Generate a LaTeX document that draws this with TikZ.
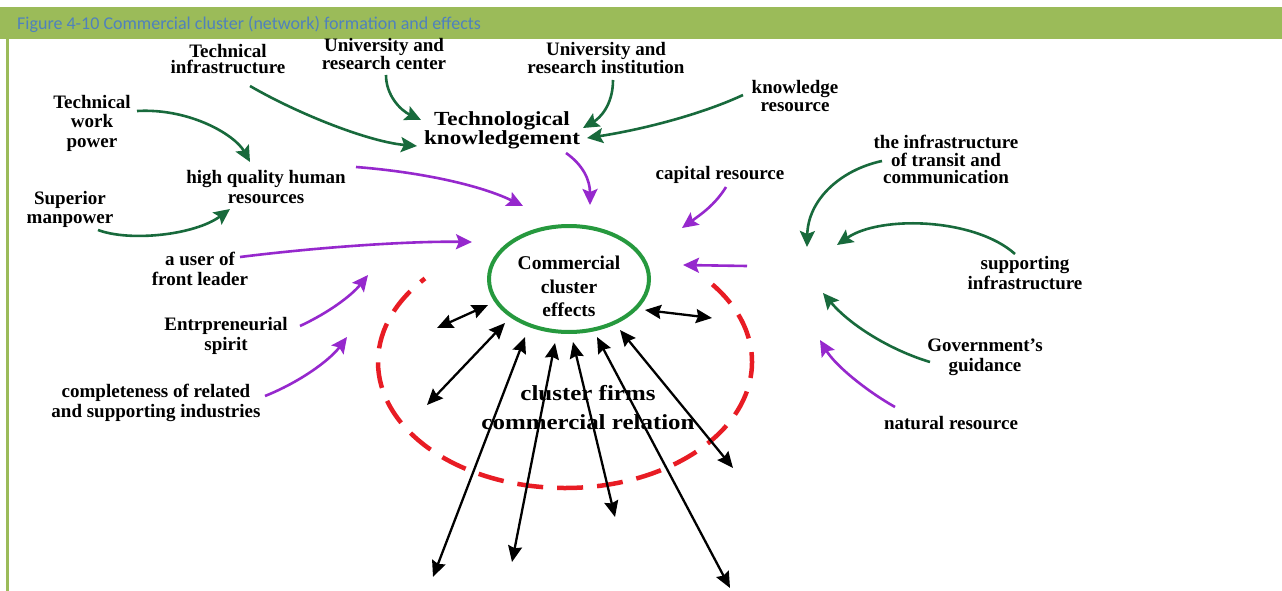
\documentclass[tikz,border=0pt]{standalone}
\usepackage{fontspec}
\setmainfont{Liberation Serif}
\newfontfamily\lblfont{Liberation Serif}
\newfontfamily\lblwide{Liberation Serif}[FakeStretch=1.16]
\newfontfamily\capfont{Carlito}
\usetikzlibrary{arrows.meta,shapes.geometric}

\definecolor{barolive}{RGB}{155,187,89}
\definecolor{titleblue}{RGB}{79,129,189}
\definecolor{dkgreen}{RGB}{24,106,60}
\definecolor{violet}{RGB}{150,40,205}
\definecolor{ringgreen}{RGB}{38,153,62}
\definecolor{ringred}{RGB}{232,28,36}

\tikzset{
  lbl/.style={inner sep=0pt, align=center,
    font=\lblfont\bfseries\fontsize{19}{#1}\selectfont},
  lbl/.default=20,
  techlbl/.style={inner sep=0pt, align=center,
    font=\lblwide\bfseries\fontsize{20}{16.5}\selectfont},
  rellbl/.style={inner sep=0pt, align=center,
    font=\lblwide\bfseries\fontsize{21.5}{29}\selectfont},
  feedg/.style={draw=dkgreen, line width=2.6pt,
    arrows={-Stealth[length=16pt,width=15pt,inset=3pt]}},
  feedp/.style={draw=violet, line width=2.6pt,
    arrows={-Stealth[length=16pt,width=15pt,inset=3pt]}},
  linkarrow/.style={draw=black, line width=2.3pt,
    arrows={Stealth[length=16pt,width=14pt,inset=2pt]-Stealth[length=16pt,width=14pt,inset=2pt]}},
}

\begin{document}
\begin{tikzpicture}[x=1pt,y=-1pt]
\useasboundingbox (0,0) rectangle (1282,591);
\fill[white] (0,0) rectangle (1282,591);

% caption bar and left rule
\fill[barolive] (0,7) rectangle (1282,39);
\fill[barolive] (6,39) rectangle (9,591);
\node[anchor=base west, inner sep=0pt, text=titleblue,
      font=\capfont\fontsize{18}{21}\selectfont] (title) at (17,30)
  {Figure 4-10 Commercial cluster (network) formation and effects};

% dashed ring of firms
\coordinate (ringc) at (565,362);
\draw[ringred, line width=4.5pt, dash pattern=on 26pt off 14pt]
  (ringc) ++(-38:187 and 126) arc[start angle=-38, end angle=221.5, x radius=187, y radius=126];

% central effect
\node[draw=ringgreen, line width=4pt, ellipse, minimum width=160pt, minimum height=106pt, inner sep=0pt]
  (effects) at (569,279) {};
\node[lbl=23.5, font=\lblfont\bfseries\fontsize{19.5}{23.5}\selectfont] (effectstext) at (569,286.5)
  {Commercial\\cluster\\effects};

% labels
\node[lbl=16.5] (techinfra) at (228,59) {Technical\\infrastructure};
\node[lbl=16.7] (unicenter) at (384,54) {University and\\research center};
\node[lbl=15.5] (uniinst) at (606,58) {University and\\research institution};
\node[lbl=18.5] (knowres) at (795,96) {knowledge\\resource};
\node[techlbl] (techknow) at (502,130) {Technological\\knowledgement};
\node[lbl=19.5] (workpower) at (92,123) {Technical\\work\\power};
\node[lbl=20] (human) at (266,187) {high quality human\\resources};
\node[lbl=19] (manpower) at (70,209) {Superior\\manpower};
\node[lbl=20] (frontuser) at (200,269) {a user of\\front leader};
\node[lbl=20] (spirit) at (226,336) {Entrpreneurial\\spirit};
\node[lbl=20] (industries) at (156,403) {completeness of related\\and supporting industries};
\node[lbl] (capital) at (720,175) {capital resource};
\node[lbl=17.5] (transit) at (946,159.5) {the infrastructure\\of transit and\\communication};
\node[lbl=20] (support) at (1025,273) {supporting\\infrastructure};
\node[lbl=20.5] (govern) at (985,357.5) {Government’s\\guidance};
\node[lbl] (natural) at (951,423) {natural resource};
\node[rellbl] (relation) at (588,407.5) {cluster firms\\commercial relation};

% arrow end points
\coordinate (ti-a) at (250,86);   \coordinate (ti-b) at (417,146);
\coordinate (uc-a) at (386,75);   \coordinate (uc-b) at (421,120);
\coordinate (ui-a) at (613,80);   \coordinate (ui-b) at (583,128);
\coordinate (kr-a) at (743,95);   \coordinate (kr-b) at (587,138);
\coordinate (wp-a) at (137,111);  \coordinate (wp-b) at (250,162);
\coordinate (mp-a) at (98,230);   \coordinate (mp-b) at (230,209);
\coordinate (tr-a) at (882,161);  \coordinate (tr-b) at (807,247);
\coordinate (si-a) at (1015,254); \coordinate (si-b) at (837,245);
\coordinate (gg-a) at (930,362);  \coordinate (gg-b) at (823,293);

\coordinate (hq-a) at (356,167);  \coordinate (hq-b) at (523,206);
\coordinate (tk-a) at (566,153);  \coordinate (tk-b) at (590,205);
\coordinate (cr-a) at (726,187);  \coordinate (cr-b) at (682,228);
\coordinate (uf-a) at (240,257);  \coordinate (uf-b) at (472,242);
\coordinate (en-a) at (300,326);  \coordinate (en-b) at (368,275);
\coordinate (co-a) at (265,396);  \coordinate (co-b) at (347,337);
\coordinate (rh-a) at (747,266);  \coordinate (rh-b) at (683,265);
\coordinate (nr-a) at (895,407);  \coordinate (nr-b) at (820,340);

% inputs to technological knowledge and human resources
\draw[feedg] (ti-a) .. controls (300,115) and (370,142) .. (ti-b);
\draw[feedg] (uc-a) .. controls (386,95) and (400,110) .. (uc-b);
\draw[feedg] (ui-a) .. controls (613,105) and (600,118) .. (ui-b);
\draw[feedg] (kr-a) .. controls (700,115) and (640,130) .. (kr-b);
\draw[feedg] (wp-a) .. controls (190,108) and (235,135) .. (wp-b);
\draw[feedg] (mp-a) .. controls (130,242) and (195,235) .. (mp-b);
% infrastructure inputs on the right
\draw[feedg] (tr-a) .. controls (840,170) and (808,200) .. (tr-b);
\draw[feedg] (si-a) .. controls (975,218) and (880,215) .. (si-b);
\draw[feedg] (gg-a) .. controls (890,350) and (850,325) .. (gg-b);

% factors feeding the cluster
\draw[feedp] (hq-a) .. controls (420,172) and (480,185) .. (hq-b);
\draw[feedp] (tk-a) .. controls (583,165) and (590,180) .. (tk-b);
\draw[feedp] (cr-a) .. controls (715,205) and (700,215) .. (cr-b);
\draw[feedp] (uf-a) .. controls (320,247) and (410,241) .. (uf-b);
\draw[feedp] (en-a) .. controls (330,312) and (352,295) .. (en-b);
\draw[feedp] (co-a) .. controls (300,382) and (330,360) .. (co-b);
\draw[feedp] (rh-a) -- (rh-b);
\draw[feedp] (nr-a) .. controls (865,390) and (835,365) .. (nr-b);

% commercial relations between the effect and the firms
\coordinate (l1-a) at (437,328); \coordinate (l1-b) at (488,305);
\coordinate (l2-a) at (427,405); \coordinate (l2-b) at (505,323);
\coordinate (l3-a) at (433,577); \coordinate (l3-b) at (525,337);
\coordinate (l4-a) at (512,562); \coordinate (l4-b) at (555,343);
\coordinate (l5-a) at (615,517); \coordinate (l5-b) at (573,342);
\coordinate (l6-a) at (730,588); \coordinate (l6-b) at (597,337);
\coordinate (l7-a) at (733,468); \coordinate (l7-b) at (620,330);
\coordinate (l8-a) at (712,318); \coordinate (l8-b) at (645,310);
\foreach \k in {1,...,8} \draw[linkarrow] (l\k-a) -- (l\k-b);
\end{tikzpicture}
\end{document}
